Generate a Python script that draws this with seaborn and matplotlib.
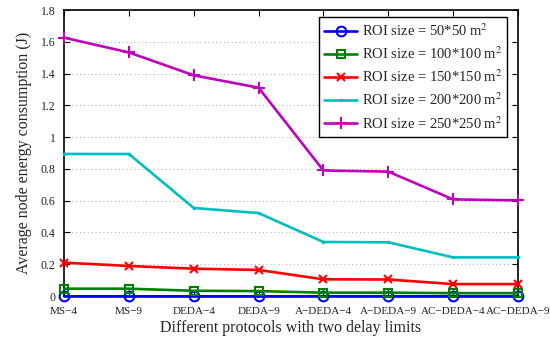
import numpy as np
import pandas as pd
import matplotlib
matplotlib.use("Agg")
import matplotlib.pyplot as plt
import seaborn as sns
from matplotlib.ticker import FuncFormatter

protocols = ["MS\u22124", "MS\u22129", "DEDA\u22124", "DEDA\u22129",
             "A\u2212DEDA\u22124", "A\u2212DEDA\u22129", "AC\u2212DEDA\u22124", "AC\u2212DEDA\u22129"]

roi_50 = [0.0, 0.0, 0.0, 0.0, 0.0, 0.0, 0.0, 0.0]
roi_100 = [0.046, 0.046, 0.033, 0.031, 0.021, 0.021, 0.018, 0.018]
roi_150 = [0.210, 0.189, 0.172, 0.164, 0.105, 0.104, 0.075, 0.075]
roi_200 = [0.894, 0.894, 0.554, 0.522, 0.340, 0.338, 0.243, 0.243]
roi_250 = [1.626, 1.533, 1.389, 1.311, 0.790, 0.783, 0.608, 0.602]

series_names = [r"ROI size = 50*50 m$^2$", r"ROI size = 100*100 m$^2$",
                r"ROI size = 150*150 m$^2$", r"ROI size = 200*200 m$^2$",
                r"ROI size = 250*250 m$^2$"]
series_values = [roi_50, roi_100, roi_150, roi_200, roi_250]

colors = ["#0000ff", "#008000", "#ff0000", "#00bfbf", "#bf00bf"]
markers = ["o", "s", "x", ".", "+"]
marker_sizes = [7, 6, 6, 2, 9]

sns.set_theme(style="ticks")
plt.rcParams["font.family"] = ["Liberation Serif", "DejaVu Serif"]
plt.rcParams["mathtext.fontset"] = "stix"

rows = []
for name, vals in zip(series_names, series_values):
    for i, v in enumerate(vals):
        rows.append({"pos": i, "energy": v, "series": name})
df = pd.DataFrame(rows)

fig = plt.figure(figsize=(5.5, 3.39), dpi=100)
ax = fig.add_axes([0.1164, 0.1268, 0.8254, 0.8437])

for k, (name, col, mk, ms) in enumerate(zip(series_names, colors, markers, marker_sizes)):
    sub = df[df["series"] == name]
    sns.lineplot(data=sub, x="pos", y="energy", ax=ax, color=col, marker=mk,
                 markersize=ms, markerfacecolor="none", markeredgecolor=col,
                 markeredgewidth=1.5, linewidth=1.9, label=name,
                 zorder=3 + k, clip_on=False)

ax.set_xlim(0, 7)
ax.set_ylim(0, 1.8)
ax.set_xticks(range(len(protocols)))
ax.set_xticklabels(protocols, fontsize=8)
ax.set_yticks(np.arange(0, 1.81, 0.2))
ax.yaxis.set_major_formatter(FuncFormatter(lambda v, p: f"{v:g}"))
ax.tick_params(axis="y", labelsize=8.5)
ax.tick_params(direction="in", top=True, right=True, length=4, width=0.8, colors="black")
ax.tick_params(axis="x", pad=8)
ax.tick_params(axis="y", pad=6)
for lab in ax.get_xticklabels() + ax.get_yticklabels():
    lab.set_color("#222222")

ax.yaxis.grid(True, linestyle=(0, (1, 3)), color="#aaaaaa", linewidth=0.7)
ax.xaxis.grid(False)
for s in ax.spines.values():
    s.set_color("black")
    s.set_linewidth(1.2)

ax.set_xlabel("Different protocols with two delay limits", fontsize=11.5, labelpad=3)
ax.set_ylabel("Average node energy consumption (J)", fontsize=11.5, labelpad=6)

leg = ax.legend(loc="upper right", bbox_to_anchor=(0.983, 0.985), fontsize=10.5,
                frameon=True, fancybox=False, framealpha=1, edgecolor="black",
                handlelength=2.3, handletextpad=0.3, borderpad=0.35,
                labelspacing=0.45, borderaxespad=0.2)
leg.get_frame().set_linewidth(1.0)
leg.set_zorder(20)

fig.savefig("out.png", dpi=100)
